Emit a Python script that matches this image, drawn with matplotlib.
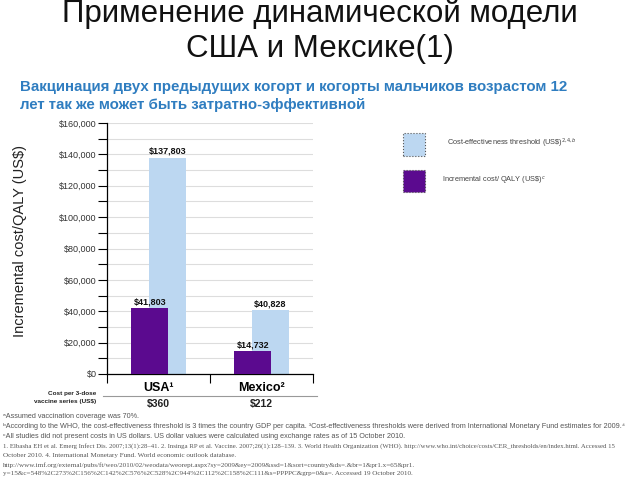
import matplotlib
matplotlib.use("Agg")
import matplotlib.pyplot as plt
import matplotlib.transforms as mtransforms
from matplotlib.patches import Rectangle
from matplotlib.lines import Line2D
from matplotlib import font_manager
import numpy as np

# --- data ---
countries = ["USA\u00b9", "Mexico\u00b2"]
threshold = [137803, 40828]          # cost-effectiveness threshold (US$)
incremental = [41803, 14732]         # incremental cost / QALY (US$)
dose_cost = ["$360", "$212"]
y_ticks = np.arange(0, 160001, 20000)
y_tick_labels = [f"${v:,}" for v in y_ticks]

PURPLE = "#5B0A8F"
LIGHTBLUE = "#BCD7F1"
BLUE_TXT = "#2F7DC0"

footnotes = [
    ("\u1d43Assumed vaccination coverage was 70%.", "sans"),
    ("\u1d47According to the WHO, the cost-effectiveness threshold is 3 times the country GDP per capita. "
     "\u00b3Cost-effectiveness thresholds were derived from International Monetary Fund estimates for 2009.\u2074", "sans"),
    ("\u1d9cAll studies did not present costs in US dollars. US dollar values were calculated using exchange rates as of 15 October 2010.", "sans"),
    ("1. Elbasha EH et al. Emerg Infect Dis. 2007;13(1):28\u201341. 2. Insinga RP et al. Vaccine. 2007;26(1):128\u2013139. "
     "3. World Health Organization (WHO). http://www.who.int/choice/costs/CER_thresholds/en/index.html. Accessed 15", "serif"),
    ("October 2010. 4. International Monetary Fund. World economic outlook database.", "serif"),
    ("http://www.imf.org/external/pubs/ft/weo/2010/02/weodata/weorept.aspx?sy=2009&ey=2009&ssd=1&sort=country&ds=.&br=1&pr1.x=65&pr1.", "serif"),
    ("y=15&c=548%2C273%2C156%2C142%2C576%2C528%2C944%2C112%2C158%2C111&s=PPPPC&grp=0&a=. Accessed 19 October 2010.", "serif"),
]

plt.rcParams["font.family"] = ["Liberation Sans", "DejaVu Sans"]

installed = {f.name for f in font_manager.fontManager.ttflist}
narrow = "Liberation Sans Narrow" if "Liberation Sans Narrow" in installed else "Liberation Sans"

W, H = 640, 480
fig = plt.figure(figsize=(6.4, 4.8), dpi=100)
fig.patch.set_facecolor("white")


def fx(px):
    return px / W


def fy(py):
    return 1 - py / H


# --- titles ---
fig.text(0.5, fy(14), "Применение динамической модели", ha="center", va="center",
         fontsize=22.5, color="#111111")
fig.text(0.5, fy(49), "США и Мексике(1)", ha="center", va="center",
         fontsize=22.5, color="#111111")
fig.text(fx(20), fy(87), "Вакцинация двух предыдущих когорт и когорты мальчиков возрастом 12",
         ha="left", va="center", fontsize=10.8, fontweight="bold", color=BLUE_TXT)
fig.text(fx(20), fy(105), "лет так же может быть затратно-эффективной",
         ha="left", va="center", fontsize=10.8, fontweight="bold", color=BLUE_TXT)

# --- bar chart ---
ax = fig.add_axes([fx(107), fy(374), fx(206), (374 - 123) / H])
x = np.arange(len(countries)) + 0.5
bw = 0.36
ax.bar(x + 0.085, threshold, width=bw, color=LIGHTBLUE, zorder=2)
ax.bar(x - 0.085, incremental, width=bw, color=PURPLE, zorder=3)

for xi, v in zip(x + 0.085, threshold):
    ax.text(xi, v + 1200, f"${v:,}", ha="center", va="bottom", fontsize=6.5,
            fontweight="bold", color="#111111", zorder=4)
for xi, v in zip(x - 0.085, incremental):
    ax.text(xi, v + 1200, f"${v:,}", ha="center", va="bottom", fontsize=6.5,
            fontweight="bold", color="#111111", zorder=4)

ax.set_xlim(0, 2)
ax.set_ylim(0, 160000)
ax.set_yticks(y_ticks)
ax.set_yticklabels(y_tick_labels, fontsize=6.5, color="#333333")
ax.set_yticks(np.arange(10000, 160000, 20000), minor=True)
ax.tick_params(axis="y", which="both", direction="out", length=6.5, width=0.8, pad=1)
ax.grid(axis="y", which="both", color="#DDDDDD", linewidth=0.8, zorder=0)
ax.set_axisbelow(True)

ax.set_xticks(x)
ax.set_xticklabels(countries, fontsize=9, fontweight="bold")
ax.tick_params(axis="x", which="major", length=0, pad=6)
ax.set_xticks([0, 1, 2], minor=True)
ax.tick_params(axis="x", which="minor", direction="out", length=6.5, width=0.8)

for s in ("top", "right"):
    ax.spines[s].set_visible(False)
for s in ("left", "bottom"):
    ax.spines[s].set_linewidth(0.9)

# cost per dose row
trans = mtransforms.blended_transform_factory(ax.transData, ax.transAxes)
row_y = -(404 - 374) / (374 - 123)
for xi, c in zip(x, dose_cost):
    ax.text(xi, row_y, c, transform=trans, ha="center", va="center",
            fontsize=7.5, fontweight="bold", color="#222222", clip_on=False)
fig.add_artist(Line2D([fx(103), fx(317)], [fy(396), fy(396)], color="#999999", linewidth=0.8))
fig.text(fx(96), fy(394), "Cost per 3-dose", ha="right", va="center", fontsize=4.6,
         fontweight="bold", color="#222222")
fig.text(fx(96), fy(401), "vaccine series (US$)", ha="right", va="center", fontsize=4.6,
         fontweight="bold", color="#222222")

# y axis title
fig.text(fx(20), fy(241), "Incremental cost/QALY (US$)", rotation=90, ha="center", va="center",
         fontsize=12 if narrow != "Liberation Sans" else 10.5, color="#222222",
         family=[narrow, "DejaVu Sans"])

# --- legend ---
fig.add_artist(Rectangle((fx(403), fy(156)), fx(22), (156 - 133) / H, facecolor=LIGHTBLUE,
                         edgecolor="#555555", linewidth=0.8, linestyle=":"))
fig.add_artist(Rectangle((fx(403), fy(192)), fx(22), (192 - 170) / H, facecolor=PURPLE,
                         edgecolor="#555555", linewidth=0.8, linestyle=":"))
fig.text(fx(447), fy(143), "Cost-effectiveness threshold (US\\$)$^{2{,}4{,}b}$", ha="left", va="center",
         fontsize=5.3, color="#444444")
fig.text(fx(442), fy(181), "Incremental cost/ QALY (US\\$)$^{c}$", ha="left", va="center",
         fontsize=5.3, color="#444444")

# --- footnotes ---
foot_y = [416, 426, 436, 446, 455, 465, 474]
for i, ((txt, kind), yy) in enumerate(zip(footnotes, foot_y)):
    if kind == "sans":
        fam, fs = ["Liberation Sans", "DejaVu Sans"], 5.2
    else:
        fam, fs = ["Liberation Serif", "DejaVu Serif"], 5.1
    if i == 3:
        fs = 4.85  # long reference line, keep it inside the frame
    fig.text(fx(3), fy(yy), txt, ha="left", va="center", fontsize=fs, color="#555555",
             family=fam)

fig.savefig("out.png", dpi=100, facecolor="white")
